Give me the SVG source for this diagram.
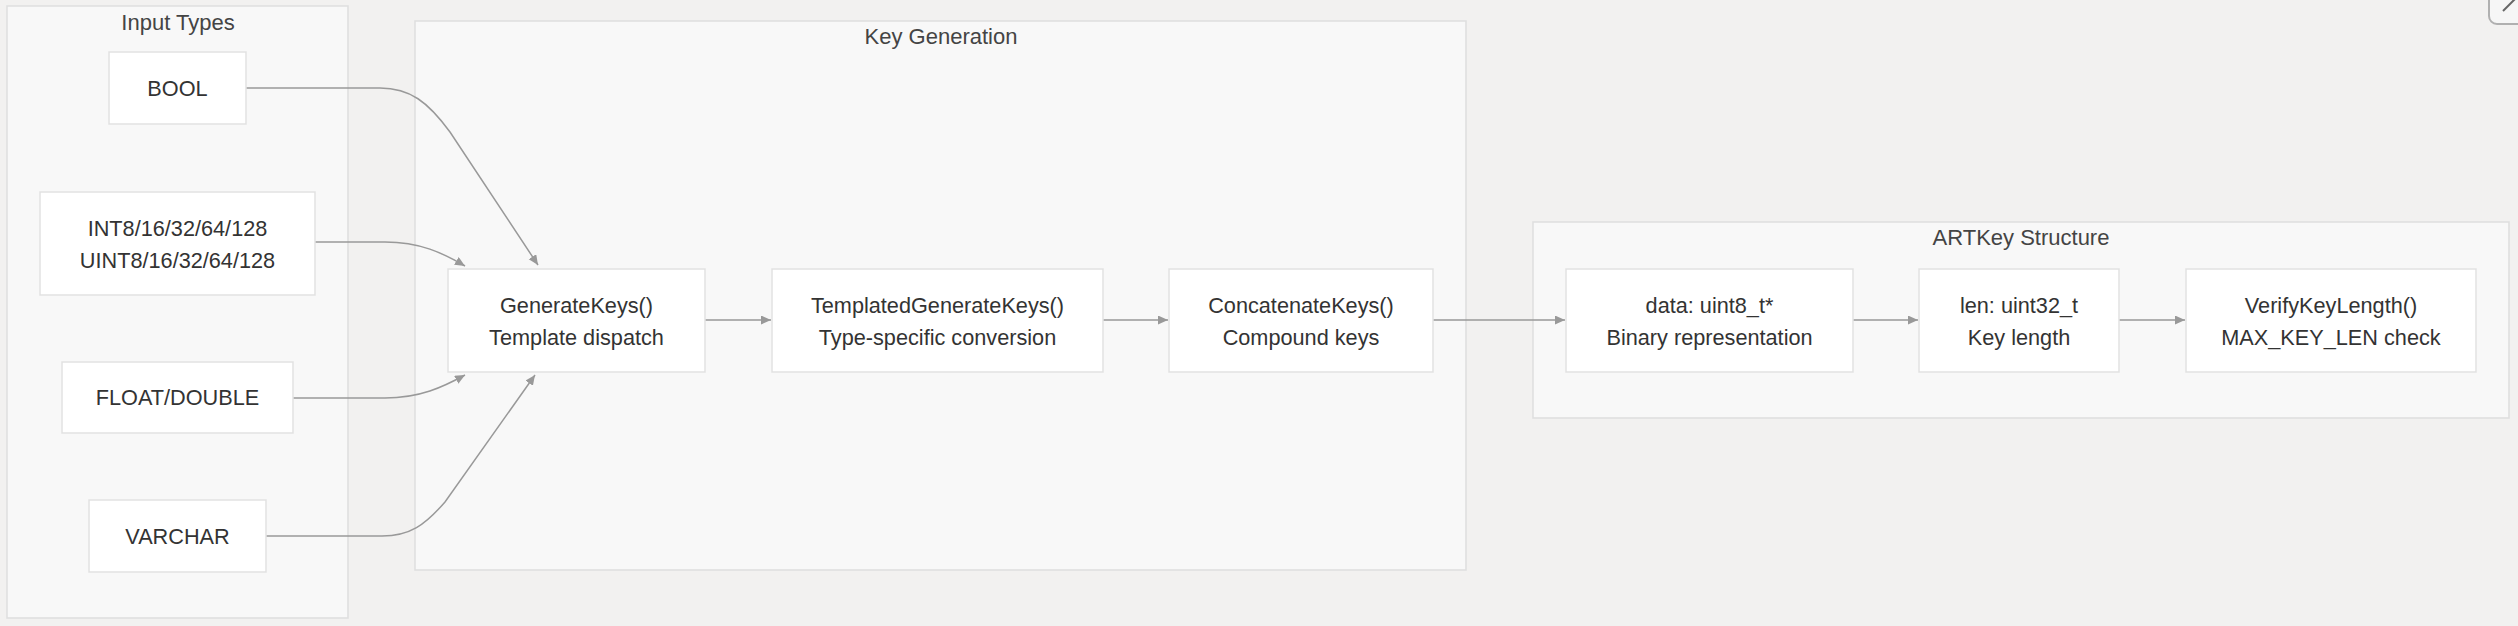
<svg xmlns="http://www.w3.org/2000/svg" width="2518" height="626" viewBox="0 0 2518 626">
<style>
.cluster{fill:#f8f8f8;stroke:#dedede;stroke-width:1.5}
.ctitle{font-family:"Liberation Sans",Arial,sans-serif;font-size:22px;fill:#444;text-anchor:middle}
.node rect{fill:#ffffff;stroke:#e2e2e2;stroke-width:1.5}
.node text{font-family:"Liberation Sans",Arial,sans-serif;font-size:21.7px;fill:#333;text-anchor:middle}
.edge{fill:none;stroke:#999;stroke-width:1.5;marker-end:url(#arrow)}
</style>
<defs>
<marker id="arrow" markerUnits="userSpaceOnUse" markerWidth="11" markerHeight="10" refX="10" refY="4.5" orient="auto">
<path d="M0,0 L10,4.5 L0,9 z" fill="#999"/>
</marker>
</defs>
<rect x="0" y="0" width="2518" height="626" fill="#f2f1f0"/>
<g id="cluster-input">
<rect class="cluster" x="7" y="6" width="341" height="612"/>
<text class="ctitle" x="178" y="30">Input Types</text>
</g>
<g id="cluster-keygen">
<rect class="cluster" x="415" y="21" width="1051" height="549"/>
<text class="ctitle" x="941" y="44">Key Generation</text>
</g>
<g id="cluster-artkey">
<rect class="cluster" x="1533" y="222" width="976" height="196"/>
<text class="ctitle" x="2021" y="245">ARTKey Structure</text>
</g>
<g id="connectors">
<path class="edge" d="M246,88 L380,88 C410,88 428,102 450,132 L538,265"/>
<path class="edge" d="M315,242 L385,242 C420,242 443,253 465,266"/>
<path class="edge" d="M293,398 L385,398 C420,398 443,387 465,375"/>
<path class="edge" d="M266,536 L382,536 C410,536 425,525 445,502 L535,375"/>
<path class="edge" d="M705,320 L771,320"/>
<path class="edge" d="M1103,320 L1168,320"/>
<path class="edge" d="M1433,320 L1565,320"/>
<path class="edge" d="M1853,320 L1918,320"/>
<path class="edge" d="M2119,320 L2185,320"/>
</g>
<g id="node-bool" class="node">
<rect x="109" y="52" width="137" height="72"/>
<text x="177.5" y="95.5">BOOL</text>
</g>
<g id="node-int" class="node">
<rect x="40" y="192" width="275" height="103"/>
<text x="177.5" y="235.5">INT8/16/32/64/128</text>
<text x="177.5" y="267.5">UINT8/16/32/64/128</text>
</g>
<g id="node-float" class="node">
<rect x="62" y="362" width="231" height="71"/>
<text x="177.5" y="405">FLOAT/DOUBLE</text>
</g>
<g id="node-varchar" class="node">
<rect x="89" y="500" width="177" height="72"/>
<text x="177.5" y="543.5">VARCHAR</text>
</g>
<g id="node-generatekeys" class="node">
<rect x="448" y="269" width="257" height="103"/>
<text x="576.5" y="312.5">GenerateKeys()</text>
<text x="576.5" y="344.5">Template dispatch</text>
</g>
<g id="node-templated" class="node">
<rect x="772" y="269" width="331" height="103"/>
<text x="937.5" y="312.5">TemplatedGenerateKeys()</text>
<text x="937.5" y="344.5">Type-specific conversion</text>
</g>
<g id="node-concat" class="node">
<rect x="1169" y="269" width="264" height="103"/>
<text x="1301" y="312.5">ConcatenateKeys()</text>
<text x="1301" y="344.5">Compound keys</text>
</g>
<g id="node-data" class="node">
<rect x="1566" y="269" width="287" height="103"/>
<text x="1709.5" y="312.5">data: uint8_t*</text>
<text x="1709.5" y="344.5">Binary representation</text>
</g>
<g id="node-len" class="node">
<rect x="1919" y="269" width="200" height="103"/>
<text x="2019" y="312.5">len: uint32_t</text>
<text x="2019" y="344.5">Key length</text>
</g>
<g id="node-verify" class="node">
<rect x="2186" y="269" width="290" height="103"/>
<text x="2331" y="312.5">VerifyKeyLength()</text>
<text x="2331" y="344.5">MAX_KEY_LEN check</text>
</g>
<g id="corner-button">
<rect x="2489" y="-20" width="60" height="44" rx="8" fill="#f6f6f6" stroke="#b0b0b0" stroke-width="2"/>
<path d="M2503,11 L2515,-1" stroke="#666" stroke-width="2" fill="none"/>
</g>
</svg>
